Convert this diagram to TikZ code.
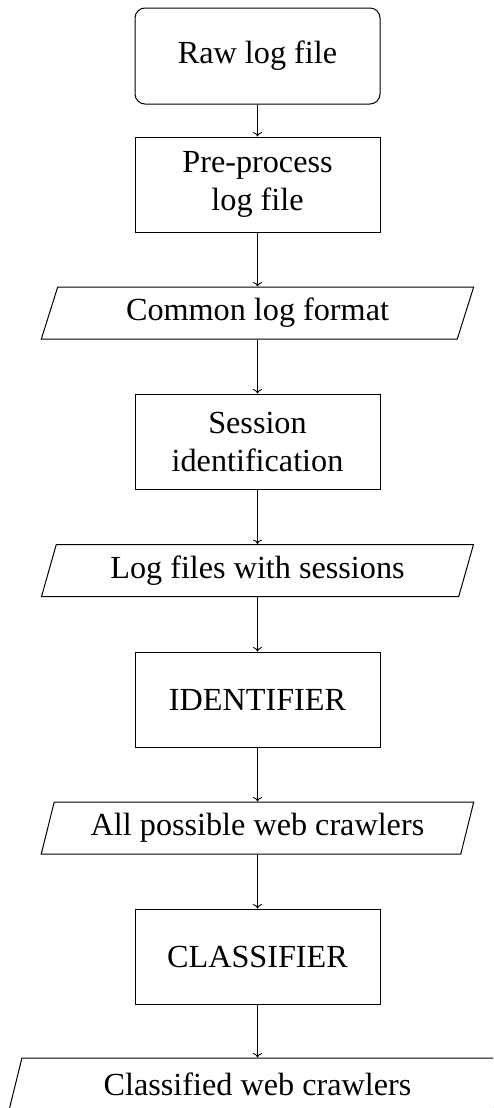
\documentclass[tikz,border=0pt]{standalone}
\usepackage{fontspec}
\setmainfont{Liberation Serif}
\usetikzlibrary{shapes.geometric,arrows.meta}
\begin{document}
\begin{tikzpicture}[x=0.5pt,y=-0.5pt,
  every node/.style={font=\fontsize{16.1}{19}\selectfont, align=center, inner sep=0pt, line width=0.5pt},
  startbox/.style={draw, rounded corners=5pt, minimum width=122.5pt, minimum height=48pt},
  process/.style={draw, minimum width=122.5pt, minimum height=47.5pt},
  data/.style={draw, trapezium, trapezium left angle=70, trapezium right angle=110,
    trapezium stretches=true, minimum width=216.5pt, minimum height=26pt},
  flow/.style={line width=0.45pt, -{To[length=2.2pt,width=4.5pt]}}]
  \clip (0,0) rectangle (493,1108);
  \useasboundingbox (0,0) rectangle (493,1108);

  \node[startbox] (raw)      at (257.5,56)    {Raw log file};
  \node[process]  (pre)      at (257.5,184.5) {Pre-process\\log file};
  \node[data]     (clf)      at (257.5,313)   {Common log format};
  \node[process]  (sess)     at (257.5,441.5) {Session\\identification};
  \node[data]     (withsess) at (257.5,570.5) {Log files with sessions};
  \node[process]  (ident)    at (257.5,699.5) {IDENTIFIER};
  \node[data]     (possible) at (257.5,828)   {All possible web crawlers};
  \node[process]  (classif)  at (257.5,956.5) {CLASSIFIER};
  \node[data, minimum width=248.5pt] (classified) at (257.5,1084) {Classified web crawlers};

  \draw[flow] (raw) -- (pre);
  \draw[flow] (pre) -- (clf);
  \draw[flow] (clf) -- (sess);
  \draw[flow] (sess) -- (withsess);
  \draw[flow] (withsess) -- (ident);
  \draw[flow] (ident) -- (possible);
  \draw[flow] (possible) -- (classif);
  \draw[flow] (classif) -- (classified);
\end{tikzpicture}
\end{document}
